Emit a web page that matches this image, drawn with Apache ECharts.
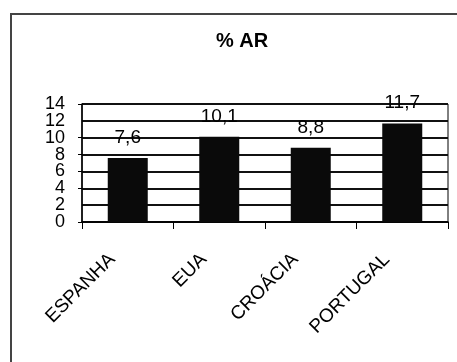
<!DOCTYPE html>
<html>
<head>
<meta charset="utf-8">
<script src="https://cdn.jsdelivr.net/npm/echarts@6/dist/echarts.min.js"></script>
<style>
  html, body { margin: 0; padding: 0; background: #fff; }
  #chart { width: 457px; height: 362px; }
</style>
</head>
<body>
<div id="chart"></div>
<script>
// Countries and their % AR values
const countries = ['ESPANHA', 'EUA', 'CROÁCIA', 'PORTUGAL'];
const arValues = [7.6, 10.1, 8.8, 11.7];
const yTicks = { min: 0, max: 14, step: 2 };

const FONT = '"Liberation Sans", Arial, sans-serif';
const commaNum = v => String(v).replace('.', ',');

const chart = echarts.init(document.getElementById('chart'), null, { renderer: 'canvas' });

// The tick labels are tall and packed closely, so the values next to the
// ends of the scale are drawn by a second, label-only axis on the same scale.
const nearEnds = [yTicks.min + yTicks.step, yTicks.max - yTicks.step];
const yLabelStyle = { margin: 17, fontFamily: FONT, fontSize: 18, color: '#000' };

chart.setOption({
  animation: false,
  backgroundColor: '#ffffff',
  title: {
    text: '% AR',
    left: 211,
    top: 26,
    textStyle: { fontFamily: FONT, fontSize: 20, fontWeight: 'bold', color: '#000' }
  },
  graphic: [{
    type: 'rect',
    z: -1,
    shape: { x: 11, y: 14, width: 600, height: 500 },
    style: { fill: 'none', stroke: '#444', lineWidth: 2 }
  }],
  grid: {
    left: 82, right: 9, top: 104, height: 118,
    show: true, borderColor: '#000', borderWidth: 1,
    containLabel: false
  },
  xAxis: {
    type: 'category',
    data: countries,
    axisLine: { lineStyle: { color: '#000', width: 1.5 } },
    axisTick: { show: true, length: 7, lineStyle: { color: '#000' } },
    axisLabel: {
      interval: 0, rotate: 45, margin: 19,
      padding: [0, 22, 0, 0],
      fontFamily: FONT, fontSize: 19, color: '#000'
    }
  },
  yAxis: [{
    type: 'value',
    position: 'left',
    min: yTicks.min, max: yTicks.max, interval: yTicks.step,
    axisLine: { show: true, lineStyle: { color: '#000', width: 1.5 } },
    axisTick: { show: true, length: 4, lineStyle: { color: '#000' } },
    axisLabel: Object.assign({ showMinLabel: true, showMaxLabel: true }, yLabelStyle),
    splitLine: { show: true, lineStyle: { color: '#111', width: 2 } }
  }, {
    type: 'value',
    position: 'left',
    min: yTicks.min, max: yTicks.max, interval: yTicks.step,
    axisLine: { show: false },
    axisTick: { show: false },
    splitLine: { show: false },
    axisLabel: Object.assign({
      showMinLabel: false, showMaxLabel: false,
      formatter: v => (nearEnds.indexOf(v) >= 0 ? String(v) : '')
    }, yLabelStyle)
  }],
  series: [{
    type: 'bar',
    yAxisIndex: 0,
    data: arValues,
    barWidth: 40,
    itemStyle: { color: '#0a0a0a' },
    label: {
      show: true, position: 'top', distance: 11,
      fontFamily: FONT, fontSize: 19, color: '#000',
      formatter: p => commaNum(p.value)
    }
  }]
});
</script>
</body>
</html>
